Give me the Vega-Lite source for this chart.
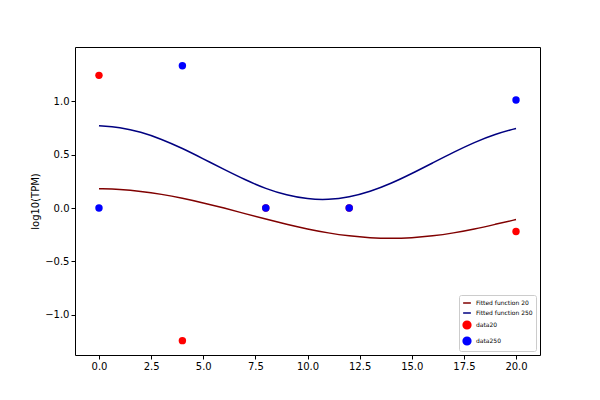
{
  "$schema": "https://vega.github.io/schema/vega-lite/v6.json",
  "width": 465,
  "height": 308,
  "autosize": "none",
  "padding": {"left": 75, "top": 47, "right": 60, "bottom": 45},
  "background": "white",
  "config": {
    "view": {"stroke": "black", "strokeWidth": 1},
    "axis": {"grid": false, "domain": false, "tickColor": "black", "labelColor": "black", "labelFont": "DejaVu Sans", "labelFontSize": 10, "titleFont": "DejaVu Sans", "titleFontSize": 10, "titleFontWeight": "normal", "tickSize": 4},
    "legend": {"labelFont": "DejaVu Sans", "labelFontSize": 6, "orient": "bottom-right", "strokeColor": "#cccccc", "fillColor": "white", "padding": 3, "rowPadding": 2, "offset": 4, "cornerRadius": 2}
  },
  "datasets": {
    "curves": [
      {"x": 0, "y": 0.18, "s": "Fitted function 20"}, {"x": 1, "y": 0.174, "s": "Fitted function 20"}, {"x": 2, "y": 0.157, "s": "Fitted function 20"}, {"x": 3, "y": 0.129, "s": "Fitted function 20"}, {"x": 4, "y": 0.092, "s": "Fitted function 20"}, {"x": 5, "y": 0.048, "s": "Fitted function 20"}, {"x": 6, "y": 0.0, "s": "Fitted function 20"}, {"x": 7, "y": -0.053, "s": "Fitted function 20"}, {"x": 8, "y": -0.104, "s": "Fitted function 20"}, {"x": 9, "y": -0.153, "s": "Fitted function 20"}, {"x": 10, "y": -0.197, "s": "Fitted function 20"}, {"x": 11, "y": -0.234, "s": "Fitted function 20"}, {"x": 12, "y": -0.262, "s": "Fitted function 20"}, {"x": 13, "y": -0.279, "s": "Fitted function 20"}, {"x": 14, "y": -0.285, "s": "Fitted function 20"}, {"x": 15, "y": -0.279, "s": "Fitted function 20"}, {"x": 16, "y": -0.262, "s": "Fitted function 20"}, {"x": 17, "y": -0.234, "s": "Fitted function 20"}, {"x": 18, "y": -0.197, "s": "Fitted function 20"}, {"x": 19, "y": -0.153, "s": "Fitted function 20"}, {"x": 20, "y": -0.108, "s": "Fitted function 20"},
      {"x": 0, "y": 0.77, "s": "Fitted function 250"}, {"x": 1, "y": 0.755, "s": "Fitted function 250"}, {"x": 2, "y": 0.712, "s": "Fitted function 250"}, {"x": 3, "y": 0.644, "s": "Fitted function 250"}, {"x": 4, "y": 0.558, "s": "Fitted function 250"}, {"x": 5, "y": 0.46, "s": "Fitted function 250"}, {"x": 6, "y": 0.36, "s": "Fitted function 250"}, {"x": 7, "y": 0.264, "s": "Fitted function 250"}, {"x": 8, "y": 0.18, "s": "Fitted function 250"}, {"x": 9, "y": 0.119, "s": "Fitted function 250"}, {"x": 10, "y": 0.083, "s": "Fitted function 250"}, {"x": 11, "y": 0.076, "s": "Fitted function 250"}, {"x": 12, "y": 0.1, "s": "Fitted function 250"}, {"x": 13, "y": 0.152, "s": "Fitted function 250"}, {"x": 14, "y": 0.228, "s": "Fitted function 250"}, {"x": 15, "y": 0.321, "s": "Fitted function 250"}, {"x": 16, "y": 0.421, "s": "Fitted function 250"}, {"x": 17, "y": 0.521, "s": "Fitted function 250"}, {"x": 18, "y": 0.614, "s": "Fitted function 250"}, {"x": 19, "y": 0.691, "s": "Fitted function 250"}, {"x": 20, "y": 0.744, "s": "Fitted function 250"}
    ],
    "points": [
      {"x": 0, "y": 1.24, "s": "data20"}, {"x": 4, "y": -1.24, "s": "data20"}, {"x": 8, "y": 0, "s": "data20"}, {"x": 12, "y": 0, "s": "data20"}, {"x": 20, "y": -0.22, "s": "data20"},
      {"x": 0, "y": 0, "s": "data250"}, {"x": 4, "y": 1.33, "s": "data250"}, {"x": 8, "y": 0, "s": "data250"}, {"x": 12, "y": 0, "s": "data250"}, {"x": 20, "y": 1.01, "s": "data250"}
    ]
  },
  "encoding": {
    "x": {"field": "x", "type": "quantitative", "scale": {"domain": [-1.15, 21.15], "nice": false, "zero": false}, "axis": {"values": [0, 2.5, 5, 7.5, 10, 12.5, 15, 17.5, 20], "format": ".1f"}, "title": null},
    "y": {"field": "y", "type": "quantitative", "scale": {"domain": [-1.374, 1.505], "nice": false, "zero": false}, "axis": {"values": [-1, -0.5, 0, 0.5, 1], "format": ".1f"}, "title": "log10(TPM)"}
  },
  "layer": [
    {
      "data": {"name": "curves"},
      "mark": {"type": "line", "interpolate": "basis", "strokeWidth": 1.5},
      "encoding": {
        "color": {"field": "s", "type": "nominal", "scale": {"domain": ["Fitted function 20", "Fitted function 250", "data20", "data250"], "range": ["#800000", "#000080", "#ff0000", "#0000ff"]}, "legend": {"title": null, "symbolSize": 60}}
      }
    },
    {
      "data": {"name": "points"},
      "mark": {"type": "point", "filled": true, "size": 55, "opacity": 1},
      "encoding": {
        "color": {"field": "s", "type": "nominal"},
        "shape": {"field": "s", "type": "nominal", "scale": {"domain": ["Fitted function 20", "Fitted function 250", "data20", "data250"], "range": ["stroke", "stroke", "circle", "circle"]}, "legend": {"title": null}}
      }
    }
  ]
}
